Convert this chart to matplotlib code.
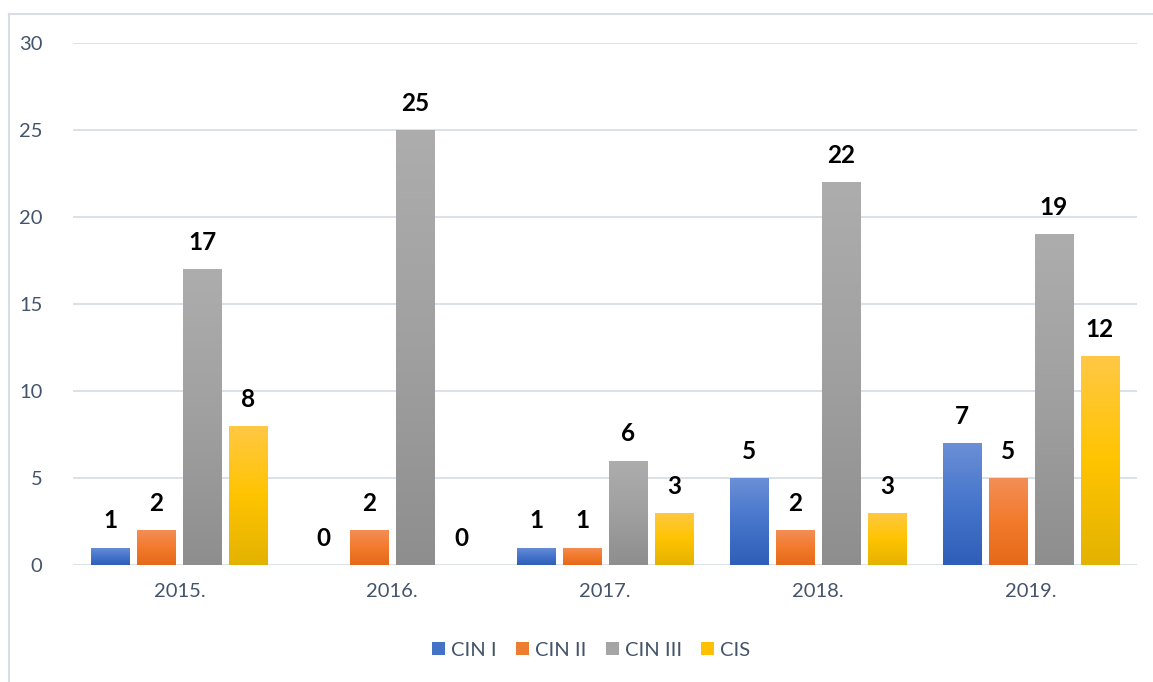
import matplotlib
matplotlib.use("Agg")
import matplotlib.pyplot as plt
import numpy as np
from matplotlib.colors import LinearSegmentedColormap
from matplotlib.lines import Line2D

years = ["2015.", "2016.", "2017.", "2018.", "2019."]
series = ["CIN I", "CIN II", "CIN III", "CIS"]
cin1 = [1, 0, 1, 5, 7]
cin2 = [2, 2, 1, 2, 5]
cin3 = [17, 25, 6, 22, 19]
cis = [8, 0, 3, 3, 12]
values = [cin1, cin2, cin3, cis]

base_colors = ["#4472C4", "#ED7D31", "#A5A5A5", "#FFC000"]
grad = [
    ["#6A8FD6", "#4675CC", "#2F5EB8"],
    ["#F28E57", "#F37A2B", "#E46A1A"],
    ["#ADADAD", "#A0A0A0", "#8E8E8E"],
    ["#FFC845", "#FFC400", "#E3B200"],
]

plt.rcParams['font.family'] = ['Lato', 'DejaVu Sans']
fig = plt.figure(figsize=(11.53, 6.82), dpi=100)
ax = fig.add_axes([73/1153, 1-565/682, (1137-73)/1153, (565-43)/682])

bc = "#D9DEE6"
fig.lines.append(Line2D([8.5/1153, 8.5/1153], [0, 1-13.5/682], transform=fig.transFigure,
                        color=bc, linewidth=1.5))
fig.lines.append(Line2D([8.5/1153, 1], [1-13.5/682, 1-13.5/682], transform=fig.transFigure,
                        color=bc, linewidth=1.5))

x = np.arange(len(years))
width = 0.179
step = 0.216
offsets = (np.arange(4) - 1.5) * step

for i, (s, vals) in enumerate(zip(series, values)):
    bars = ax.bar(x + offsets[i], vals, width, color=base_colors[i], label=s, zorder=2)
    cmap = LinearSegmentedColormap.from_list("g%d" % i, grad[i][::-1])
    for b, v in zip(bars, vals):
        if v > 0:
            x0 = b.get_x(); w = b.get_width()
            img = ax.imshow(np.linspace(0, 1, 256).reshape(-1, 1), cmap=cmap,
                            extent=[x0, x0 + w, 0, v], origin="lower",
                            aspect="auto", zorder=2.5)
            img.set_clip_path(b)
        ax.annotate(str(v), (b.get_x() + b.get_width()/2, v), xytext=(0, 11),
                    textcoords="offset points", ha="center", va="bottom",
                    fontsize=17.5, fontweight="bold", color="black", zorder=4)

ax.set_xlim(-0.5, 4.5)
ax.set_ylim(0, 30)
ax.set_yticks(range(0, 31, 5))
ax.set_xticks(x)
ax.set_xticklabels(years)
ax.yaxis.grid(True, color=bc, linewidth=1.3, zorder=0)
ax.set_axisbelow(True)
for sp in ax.spines.values():
    sp.set_visible(False)
ax.tick_params(axis="both", length=0, labelsize=14.5, colors="#44546A")
ax.tick_params(axis="y", pad=22)
ax.tick_params(axis="x", pad=13)

leg = ax.legend(loc="center", bbox_to_anchor=(0.487, -0.163), ncol=4, frameon=False,
                fontsize=14.5, handlelength=0.65, handleheight=0.65, handletextpad=0.3,
                columnspacing=0.95)
for t in leg.get_texts():
    t.set_color("#44546A")

fig.savefig("out.png", dpi=100)
